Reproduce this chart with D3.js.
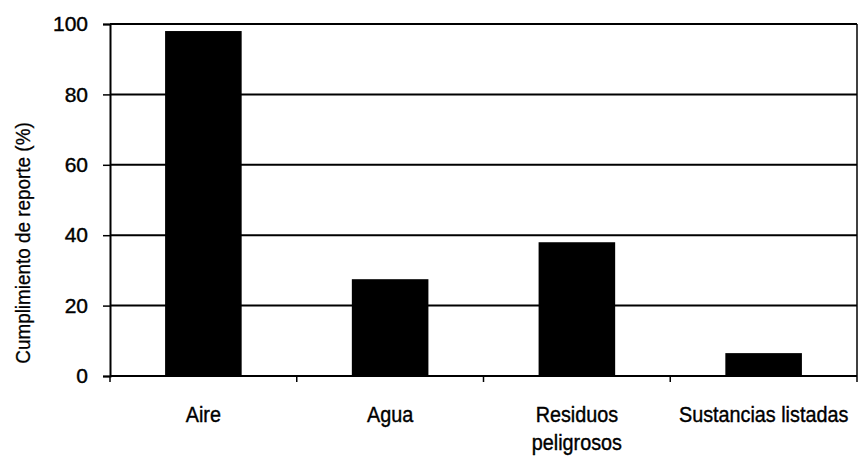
<!DOCTYPE html>
<html>
<head>
<meta charset="utf-8">
<script src="https://cdn.jsdelivr.net/npm/d3@7"></script>
<style>
  html, body { margin: 0; padding: 0; background: #fff; }
  svg { display: block; }
  text { font-family: "Liberation Sans", Arial, sans-serif; fill: #000; }
</style>
</head>
<body>
<svg id="chart" width="859" height="459"></svg>
<script>
// Report compliance by category (%)
const categories = ["Aire", "Agua", "Residuos peligrosos", "Sustancias listadas"];
const categoryLines = [["Aire"], ["Agua"], ["Residuos", "peligrosos"], ["Sustancias listadas"]];
const values = [98, 27.5, 38, 6.5];
const yTicks = [0, 20, 40, 60, 80, 100];
const yTitle = "Cumplimiento de reporte (%)";

const svg = d3.select("#chart");
const margin = { left: 110, right: 2, top: 24, bottom: 83 };
const W = 859, H = 459;
const narrow = 0.9; // horizontal squeeze for a condensed look

const x = d3.scaleBand()
  .domain(categories)
  .range([margin.left, W - margin.right])
  .paddingInner(0.59)
  .paddingOuter(0.295);

const y = d3.scaleLinear()
  .domain([0, 100])
  .range([H - margin.bottom, margin.top]);

// Horizontal gridlines
svg.append("g")
  .selectAll("line")
  .data(yTicks.filter(d => d > 0))
  .join("line")
  .attr("x1", margin.left)
  .attr("x2", W - margin.right)
  .attr("y1", d => y(d))
  .attr("y2", d => y(d))
  .attr("stroke", "#000")
  .attr("stroke-width", 2);

// Right border of plot area
svg.append("line")
  .attr("x1", W - margin.right).attr("x2", W - margin.right)
  .attr("y1", y(100)).attr("y2", y(0))
  .attr("stroke", "#000").attr("stroke-width", 1.5);

// Bars
svg.append("g")
  .selectAll("rect")
  .data(categories)
  .join("rect")
  .attr("x", d => x(d))
  .attr("width", x.bandwidth())
  .attr("y", (d, i) => y(values[i]))
  .attr("height", (d, i) => y(0) - y(values[i]))
  .attr("fill", "#000");

// Y axis
const yAxis = svg.append("g")
  .attr("transform", `translate(${margin.left},0)`)
  .call(d3.axisLeft(y).tickValues(yTicks).tickSize(7).tickPadding(15));
yAxis.select(".domain").attr("stroke", "#000").attr("stroke-width", 2);
yAxis.selectAll(".tick line").attr("stroke", "#000").attr("stroke-width", 1.5);
yAxis.selectAll(".tick text")
  .attr("font-size", 21)
  .attr("font-family", null)
  .attr("stroke", "#000")
  .attr("stroke-width", 0.4);

// X axis baseline with ticks at category boundaries
const bounds = [margin.left].concat(categories.map(c => x(c) + x.bandwidth() + x.step() * x.paddingInner() / 2));
bounds[bounds.length - 1] = W - margin.right;
svg.append("line")
  .attr("x1", margin.left).attr("x2", W - margin.right)
  .attr("y1", y(0)).attr("y2", y(0))
  .attr("stroke", "#000").attr("stroke-width", 2);
svg.append("g")
  .selectAll("line")
  .data(bounds)
  .join("line")
  .attr("x1", d => d).attr("x2", d => d)
  .attr("y1", y(0)).attr("y2", y(0) + 6)
  .attr("stroke", "#000").attr("stroke-width", 1.5);

// Category labels
const labels = svg.append("g")
  .selectAll("text")
  .data(categories)
  .join("text")
  .attr("text-anchor", "middle")
  .attr("font-size", 22)
  .attr("stroke", "#000")
  .attr("stroke-width", 0.4)
  .attr("transform", d => `translate(${x(d) + x.bandwidth() / 2},422) scale(${narrow},1)`);
labels.each(function(d, i) {
  const t = d3.select(this);
  categoryLines[i].forEach((line, k) => {
    t.append("tspan")
      .attr("x", 0)
      .attr("dy", k === 0 ? 0 : 28)
      .text(line);
  });
});

// Y axis title
svg.append("text")
  .attr("transform", `translate(30,${(y(0) + y(100)) / 2 + 43}) rotate(-90) scale(${narrow},1)`)
  .attr("text-anchor", "middle")
  .attr("font-size", 21)
  .attr("stroke", "#000")
  .attr("stroke-width", 0.3)
  .text(yTitle);
</script>
</body>
</html>
